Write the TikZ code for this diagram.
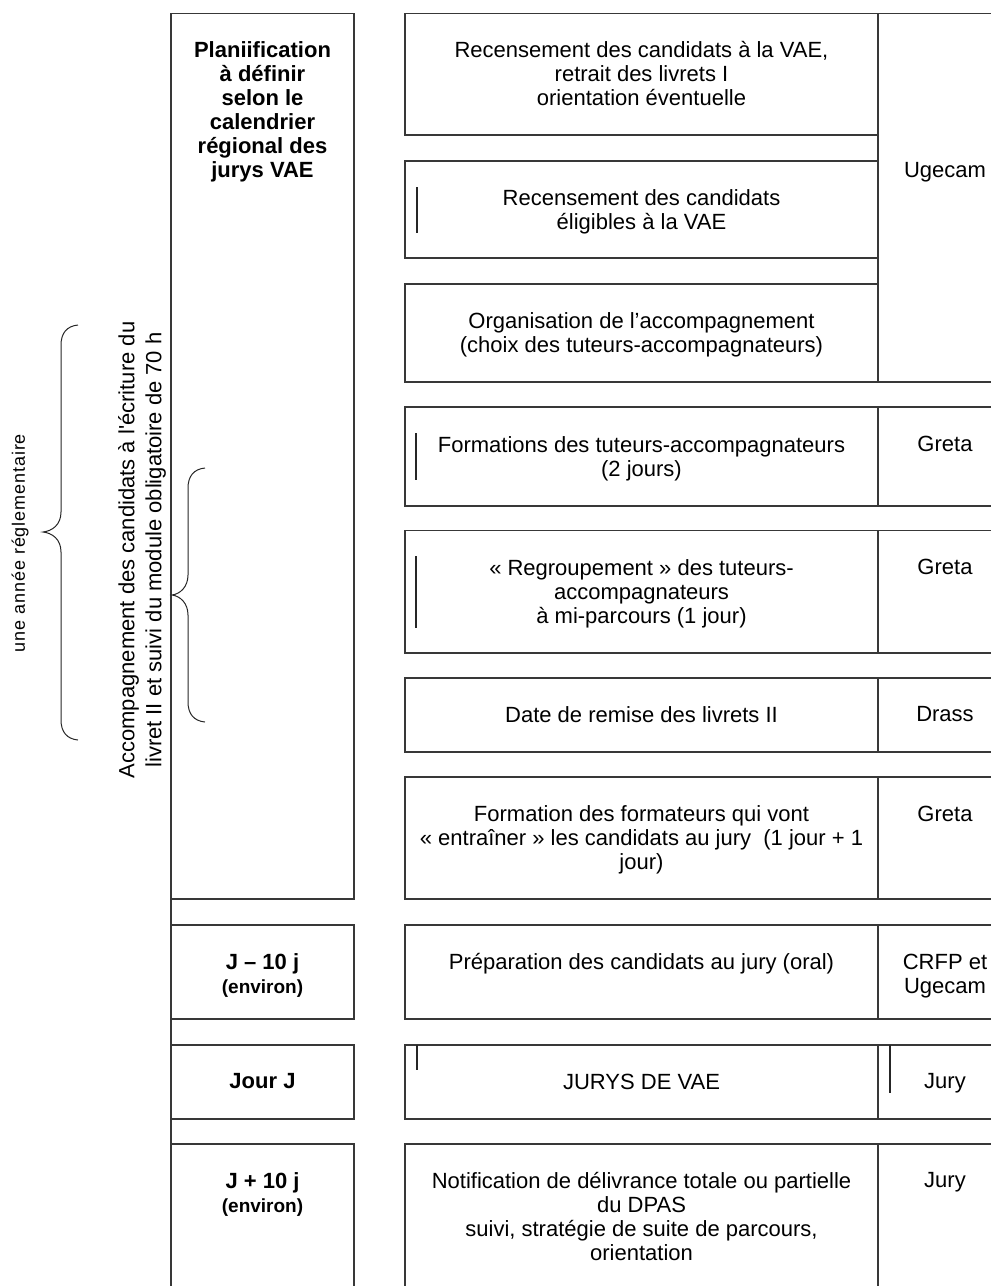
\documentclass[tikz,border=0pt]{standalone}
\usepackage{fontspec}
\setmainfont{Liberation Sans}
\newfontfamily\spacedfont[LetterSpace=5]{Liberation Sans}
\begin{document}
\begin{tikzpicture}[x=1pt,y=-1pt,
  box/.style={draw=black!78, line width=1.3pt},
  txt/.style={font=\fontsize{22}{24}\selectfont, align=center, inner sep=0pt, anchor=north, text=black},
  btxt/.style={txt, font=\fontsize{22}{24}\selectfont\bfseries},
  envtxt/.style={font=\fontsize{19}{23}\selectfont\bfseries, inner sep=0pt, anchor=base, text=black},
  tickmark/.style={draw=black!85, line width=1.3pt},
  bracepath/.style={draw=black!85, line width=1pt}]
\useasboundingbox (0,0) rectangle (991,1286);
\clip (0,0) rectangle (991,1286);

% ---------- left column ----------
\draw[box] (171,13.5) -- (171,1300);
\draw[box] (171,13.5) rectangle (354,899);
\draw[box] (171,925) rectangle (354,1019);
\draw[box] (171,1045) rectangle (354,1119);
\draw[box] (171,1300) -- (171,1144) -- (354,1144) -- (354,1300);

\node[btxt] (plan) at (262.5,41.5) {Planiification\\à définir\\selon le\\calendrier\\régional des\\jurys VAE};
\node[btxt] (jm) at (262.5,953.5) {J – 10 j};
\node[envtxt] (jmenv) at (262.5,993) {(environ)};
\node[btxt] (jj) at (262.5,1073) {Jour J};
\node[btxt] (jp) at (262.5,1172.5) {J + 10 j};
\node[envtxt] (jpenv) at (262.5,1212) {(environ)};

% ---------- right column ----------
\draw[box] (405,13.5) rectangle (878,135);
\draw[box] (405,161) rectangle (878,258);
\draw[box] (405,284) rectangle (878,382);
\draw[box] (878,13.5) rectangle (1012,382);
\foreach \t/\b in {407/506, 530.5/653, 678/752, 777/899, 925/1019, 1045/1119}{
  \draw[box] (405,\t) rectangle (1012,\b);
  \draw[box] (878,\t) -- (878,\b);
}
\draw[box] (405,1300) -- (405,1144) -- (1012,1144);
\draw[box] (878,1144) -- (878,1300);

\node[txt] (r1) at (641.5,41.5) {Recensement des candidats à la VAE,\\retrait des livrets I\\orientation éventuelle};
\node[txt] (r2) at (641.5,189) {Recensement des candidats\\éligibles à la VAE};
\node[txt] (r3) at (641.5,312) {Organisation de l’accompagnement\\(choix des tuteurs-accompagnateurs)};
\node[txt] (r4) at (641.5,436) {Formations des tuteurs-accompagnateurs\\(2 jours)};
\node[txt] (r5) at (641.5,559) {« Regroupement » des tuteurs-\\accompagnateurs\\à mi-parcours (1 jour)};
\node[txt] (r6) at (641.5,706.5) {Date de remise des livrets II};
\node[txt] (r7) at (641.5,805.5) {Formation des formateurs qui vont\\« entraîner » les candidats au jury~ (1 jour + 1\\jour)};
\node[txt] (r8) at (641.5,953.5) {Préparation des candidats au jury (oral)};
\node[txt] (r9) at (641.5,1073.5) {JURYS DE VAE};
\node[txt] (r10) at (641.5,1172.5) {Notification de délivrance totale ou partielle\\du DPAS\\suivi, stratégie de suite de parcours,\\orientation};

\node[txt] (a1) at (945,162.5) {Ugecam};
\node[txt] (a4) at (945,436) {Greta};
\node[txt] (a5) at (945,559) {Greta};
\node[txt] (a6) at (945,706.5) {Drass};
\node[txt] (a7) at (945,805.5) {Greta};
\node[txt] (a8) at (945,953.5) {CRFP et\\Ugecam};
\node[txt] (a9) at (945,1073.5) {Jury};
\node[txt] (a10) at (945,1172.5) {Jury};

% ---------- stray ticks ----------
\draw[tickmark] (417,187) -- (417,233);
\draw[tickmark] (416,433) -- (416,480);
\draw[tickmark] (416,556) -- (416,628);
\draw[tickmark] (417,1045) -- (417,1070);
\draw[tickmark] (890,1045) -- (890,1093);

% ---------- rotated labels ----------
\node[font=\fontsize{22}{27}\selectfont, align=center, inner sep=0pt, rotate=90, text=black] (acc) at (142,550)
  {Accompagnement des candidats à l\textquotesingle écriture du\\livret II et suivi du module obligatoire de 70 h};
\node[font=\spacedfont\fontsize{18}{20}\selectfont, inner sep=0pt, rotate=90, text=black] (annee) at (20,543)
  {une année réglementaire};

% ---------- braces ----------
\draw[bracepath] (78,325) .. controls (67,326) and (61,333) .. (61,345) -- (61,512)
  .. controls (61,525) and (52,531) .. (43,532) .. controls (52,533) and (61,539) .. (61,552)
  -- (61,720) .. controls (61,732) and (67,739) .. (78,740);
\draw[bracepath] (205,468) .. controls (194,469) and (188,476) .. (188,488) -- (188,575)
  .. controls (188,587) and (180,594) .. (172,595) .. controls (180,596) and (188,603) .. (188,615)
  -- (188,702) .. controls (188,714) and (194,721) .. (205,722);
\end{tikzpicture}
\end{document}
